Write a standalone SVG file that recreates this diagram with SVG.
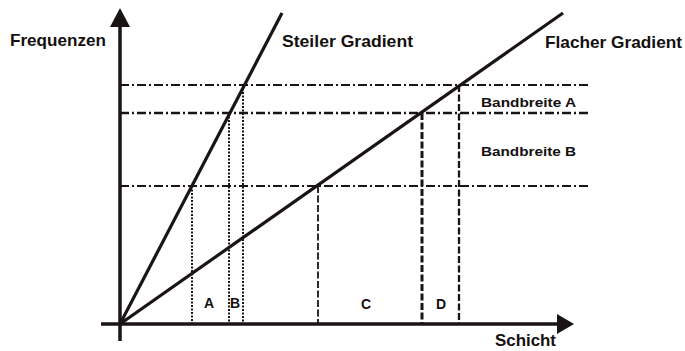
<svg xmlns="http://www.w3.org/2000/svg" width="685" height="351" viewBox="0 0 685 351">
<style>
text{font-family:"Liberation Sans",Arial,sans-serif;font-weight:bold;fill:#141010}
.lbl{font-size:16.5px}
.bw{font-size:13.5px}
.seg{font-size:14px}
.axis{stroke:#1a1414;stroke-width:3.5;fill:none}
.grad{stroke:#1a1414;stroke-width:3.2;fill:none}
.dd{stroke:#1a1414;stroke-width:1.8;stroke-dasharray:9 3 2 3;fill:none}
.dot{stroke:#1a1414;stroke-width:2;stroke-dasharray:2 1.5;fill:none}
.dash{stroke:#1a1414;stroke-width:2;stroke-dasharray:7 2.5;fill:none}
</style>
<g id="connectors">
<line class="dd" x1="120" y1="85" x2="590" y2="85"/>
<line class="dd" x1="120" y1="113" x2="590" y2="113" style="stroke-width:2.3"/>
<line class="dd" x1="120" y1="186" x2="590" y2="186"/>
<line class="dot" x1="192" y1="186" x2="192" y2="324"/>
<line class="dot" x1="229" y1="113" x2="229" y2="324"/>
<line class="dot" x1="243" y1="85" x2="243" y2="324"/>
<line class="dash" x1="318" y1="186" x2="318" y2="324" style="stroke-width:1.8"/>
<line class="dash" x1="422" y1="113" x2="422" y2="324" style="stroke-width:3"/>
<line class="dash" x1="459" y1="85" x2="459" y2="324" style="stroke-width:2.3"/>
<line class="grad" x1="120" y1="324" x2="282" y2="13"/>
<line class="grad" x1="120" y1="324" x2="563" y2="13"/>
<line class="axis" x1="120" y1="341" x2="120" y2="24"/>
<line class="axis" x1="101" y1="324" x2="560" y2="324"/>
<polygon points="120,8 130,27 110,27" fill="#1a1414"/>
<polygon points="574,324 557,314 557,334" fill="#1a1414"/>
</g>
<g id="label-frequenzen"><text class="lbl" x="10" y="46" textLength="96" lengthAdjust="spacingAndGlyphs">Frequenzen</text></g>
<g id="label-steiler"><text class="lbl" x="282" y="46.5" textLength="131" lengthAdjust="spacingAndGlyphs">Steiler Gradient</text></g>
<g id="label-flacher"><text class="lbl" x="545" y="48" textLength="137" lengthAdjust="spacingAndGlyphs">Flacher Gradient</text></g>
<g id="label-bandA"><text class="bw" x="481" y="106.5" textLength="95" lengthAdjust="spacingAndGlyphs">Bandbreite A</text></g>
<g id="label-bandB"><text class="bw" x="481" y="156" textLength="95" lengthAdjust="spacingAndGlyphs">Bandbreite B</text></g>
<g id="label-schicht"><text class="lbl" x="495" y="346" textLength="61" lengthAdjust="spacingAndGlyphs">Schicht</text></g>
<g id="label-A"><text class="seg" x="204" y="308">A</text></g>
<g id="label-B"><text class="seg" x="230" y="308">B</text></g>
<g id="label-C"><text class="seg" x="361" y="309">C</text></g>
<g id="label-D"><text class="seg" x="436" y="309">D</text></g>
</svg>
